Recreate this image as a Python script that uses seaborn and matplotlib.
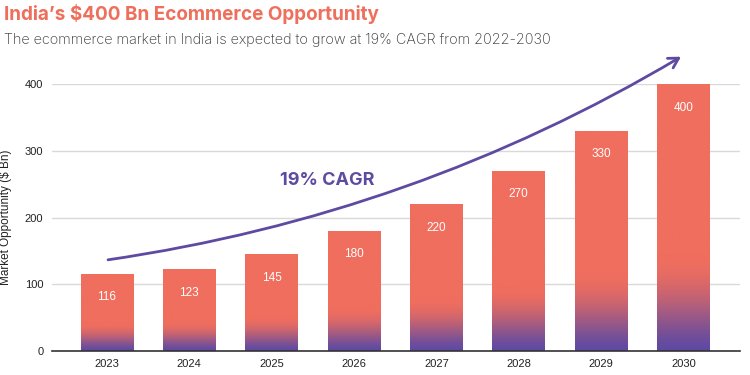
import numpy as np
import pandas as pd
import seaborn as sns
import matplotlib.pyplot as plt
from matplotlib.colors import to_rgb
from matplotlib.patches import FancyArrowPatch

# Chart data
years = ['2023', '2024', '2025', '2026', '2027', '2028', '2029', '2030']
market_bn = [116, 123, 145, 180, 220, 270, 330, 400]
y_ticks = [0, 100, 200, 300, 400]

# CAGR arrow endpoints (x = bar index, y = $ Bn)
arrow_start = (-0.02, 136)
arrow_end = (7.0, 443)

coral = '#f06e5e'
purple = '#5f4aa2'

df = pd.DataFrame({'year': years, 'value': market_bn})

sns.set_style('white')
plt.rcParams['font.family'] = ['Liberation Sans', 'DejaVu Sans']

fig = plt.figure(figsize=(7.5, 3.75), dpi=100)
ax = fig.add_axes([0.069, 0.064, 0.918, 0.712])

sns.barplot(data=df, x='year', y='value', color=coral, width=0.64,
            saturation=1, ax=ax, zorder=2)

# Gradient fill: purple at the base fading into coral
c0 = np.array(to_rgb(purple))
c1 = np.array(to_rgb(coral))
for patch in ax.patches:
    x0, w, h = patch.get_x(), patch.get_width(), patch.get_height()
    t = np.linspace(0, 1, 500)
    s = np.clip(t / 0.36, 0, 1)
    s = s ** 0.8
    s = s * s * (3 - 2 * s)
    grad = c0[None, :] * (1 - s[:, None]) + c1[None, :] * s[:, None]
    grad = np.repeat(grad[:, None, :], 4, axis=1)
    img = ax.imshow(grad, extent=[x0, x0 + w, 0, h], origin='lower',
                    aspect='auto', zorder=2.5, interpolation='bilinear')
    img.set_clip_path(patch)
    patch.set_facecolor('none')
    patch.set_edgecolor('none')

# Value labels inside bars
for i, v in enumerate(market_bn):
    ax.annotate(str(v), (i, v), xytext=(0, -17), textcoords='offset points',
                ha='center', va='center', color='white', fontsize=8.5, zorder=4)

ax.set_xlim(-0.67, 7.69)
ax.set_ylim(0, 400)
ax.set_yticks(y_ticks)
ax.yaxis.grid(True, color='#d9d9d9', lw=1, zorder=0)
ax.set_axisbelow(True)
sns.despine(ax=ax, left=True)
ax.spines['bottom'].set_color('#333333')
ax.spines['bottom'].set_linewidth(1.2)
ax.tick_params(axis='both', length=0, labelsize=8, colors='#222222', pad=6)
ax.set_xlabel('')
ax.set_ylabel('Market Opportunity ($ Bn)', fontsize=8.5, color='#222222', labelpad=9)

# CAGR arrow
arrow = FancyArrowPatch(arrow_start, arrow_end, connectionstyle='arc3,rad=0.1',
                        arrowstyle='->,head_length=7,head_width=4',
                        color=purple, lw=2, zorder=5, clip_on=False)
ax.add_patch(arrow)
ax.text(2.67, 255, '19% CAGR', ha='center', va='center', color=purple,
        fontsize=13, fontweight='bold', family=['Inter', 'DejaVu Sans'])

fig.text(0.006, 0.962, 'India\u2019s $400 Bn Ecommerce Opportunity', color='#ee6f5c',
         fontsize=13.6, fontweight='bold', family=['Inter', 'DejaVu Sans'], va='center')
fig.text(0.006, 0.893, 'The ecommerce market in India is expected to grow at 19% CAGR from 2022-2030',
         color='#333333', fontsize=10.4, fontweight='light', family=['Inter', 'DejaVu Sans'],
         va='center')

plt.savefig('out.png', dpi=100)
